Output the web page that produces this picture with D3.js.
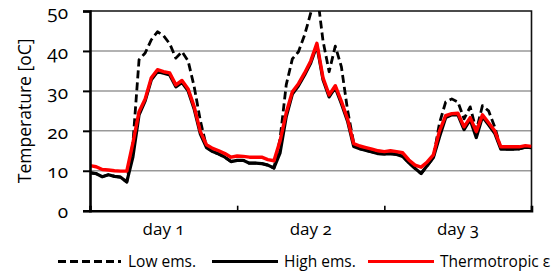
<!DOCTYPE html>
<html>
<head>
<meta charset="utf-8">
<script src="https://cdn.jsdelivr.net/npm/d3@7"></script>
<style>
  body { margin: 0; background: #fff; }
  svg text { font-family: "Open Sans", sans-serif; fill: #000; font-variant-numeric: oldstyle-nums; }
</style>
</head>
<body>
<svg id="chart" width="560" height="275"></svg>
<script>
// hourly temperatures over three days (hour 0..72)
var lowEms = [
  9.5, 9.3, 8.5, 9.0, 8.6, 8.4, 7.2, 17.0, 37.8, 39.5, 42.8, 44.8, 43.8, 41.8, 38.2, 39.8, 37.5, 31.0, 22.5, 16.0, 14.8, 14.2, 13.4, 12.3,
  12.6, 12.6, 11.9, 11.9, 11.8, 11.4, 10.7, 18.0, 31.5, 38.0, 39.8, 44.0, 49.5, 55.0, 42.5, 34.8, 41.2, 36.0, 25.2, 17.0, 15.5, 15.1, 14.7, 14.3,
  14.2, 14.3, 14.1, 13.6, 12.0, 10.6, 9.3, 11.3, 13.3, 22.0, 27.2, 28.0, 27.2, 23.0, 26.0, 20.0, 26.3, 25.0, 21.0, 15.6, 15.4, 15.4, 15.5, 15.9, 15.8
];
var highEms = [
  9.5, 9.3, 8.5, 9.0, 8.6, 8.4, 7.2, 13.5, 24.0, 27.5, 32.8, 34.8, 34.4, 34.0, 31.0, 32.1, 30.0, 25.4, 19.2, 15.8, 14.8, 14.2, 13.4, 12.3,
  12.6, 12.6, 11.9, 11.9, 11.8, 11.4, 10.7, 14.5, 23.5, 29.2, 31.3, 34.0, 37.0, 41.4, 32.8, 28.5, 30.8, 26.8, 22.4, 16.1, 15.5, 15.1, 14.7, 14.3,
  14.2, 14.3, 14.1, 13.6, 12.0, 10.6, 9.3, 11.3, 13.3, 18.5, 23.3, 24.0, 24.0, 20.3, 22.8, 18.3, 23.5, 21.5, 19.4, 15.4, 15.4, 15.4, 15.5, 15.9, 15.8
];
var thermo = [
  11.3, 11.0, 10.3, 10.2, 10.0, 9.9, 9.9, 17.0, 24.8, 28.0, 33.3, 35.3, 34.8, 34.5, 31.5, 32.6, 30.5, 26.0, 19.8, 16.5, 15.6, 15.0, 14.3, 13.4,
  13.7, 13.6, 13.4, 13.4, 13.4, 12.8, 12.5, 17.5, 24.5, 29.8, 31.8, 34.5, 37.5, 41.9, 33.3, 29.0, 31.3, 27.4, 23.0, 16.8, 16.2, 15.8, 15.4, 15.0,
  14.8, 15.0, 14.8, 14.5, 12.7, 11.4, 10.9, 12.2, 14.0, 20.0, 23.8, 24.3, 24.4, 21.0, 23.3, 19.8, 24.0, 22.0, 20.0, 16.0, 16.0, 16.0, 16.0, 16.3, 16.1
];
var days = ["day 1", "day 2", "day 3"];
var yTicks = [0, 10, 20, 30, 40, 50];
var seriesNames = ["Low ems.", "High ems.", "Thermotropic \u03b5"];

var svg = d3.select("#chart"),
  margin = { top: 11, right: 28.5, bottom: 64.3, left: 90 },
  width = +svg.attr("width"),
  height = +svg.attr("height");

var x = d3.scaleLinear().domain([0, 72]).range([margin.left, width - margin.right]);
var y = d3.scaleLinear().domain([0, 50]).range([height - margin.bottom, margin.top]);
var band = d3.scaleBand().domain(days).range([margin.left, width - margin.right]);

// gridlines
svg.append("g")
  .selectAll("line")
  .data(yTicks.slice(1, -1))
  .join("line")
  .attr("x1", margin.left).attr("x2", width - margin.right)
  .attr("y1", (d) => y(d)).attr("y2", (d) => y(d))
  .style("stroke", "#999")
  .style("stroke-width", "1.5px");

// plot border top + right
svg.append("path")
  .attr("d", "M" + margin.left + "," + y(50) + "H" + x(72) + "V" + y(0))
  .style("fill", "none")
  .style("stroke", "#111")
  .style("stroke-width", "1.6px");

svg.append("clipPath").attr("id", "plot-clip")
  .append("rect")
  .attr("x", margin.left).attr("y", y(50))
  .attr("width", x(72) - margin.left).attr("height", y(0) - y(50));

var line = d3.line()
  .x((d, i) => x(i))
  .y((d) => y(d));

var series = [
  { data: lowEms, color: "#000", w: 2.8, dash: "8,4" },
  { data: highEms, color: "#000", w: 3.2, dash: null },
  { data: thermo, color: "#ff0000", w: 3.4, dash: null }
];

var lines = svg.append("g").attr("clip-path", "url(#plot-clip)");
series.forEach((s) => {
  lines.append("path")
    .datum(s.data)
    .attr("d", line)
    .style("fill", "none")
    .style("stroke", s.color)
    .style("stroke-width", s.w + "px")
    .style("stroke-linejoin", "round")
    .style("stroke-dasharray", s.dash);
});

// y axis
var yAxis = svg.append("g")
  .attr("transform", "translate(" + margin.left + ",0)")
  .call(d3.axisLeft(y).tickValues(yTicks).tickSize(7).tickPadding(15));
yAxis.select(".domain").style("stroke", "#000").style("stroke-width", "2.6px");
yAxis.selectAll(".tick line").style("stroke", "#000").style("stroke-width", "2px");
yAxis.selectAll(".tick text")
  .attr("dy", "0.38em")
  .style("font-size", "19px")
  .style("font-family", "'Open Sans', sans-serif");

// x axis: ticks at day boundaries, labels centred in each day
var xAxis = svg.append("g")
  .attr("transform", "translate(0," + y(0) + ")")
  .call(d3.axisBottom(x).tickValues([24, 48]).tickSize(-5).tickFormat(""));
xAxis.select(".domain").style("stroke", "#000").style("stroke-width", "2.6px");
xAxis.selectAll(".tick line").style("stroke", "#000").style("stroke-width", "1.6px");

svg.append("g")
  .selectAll("text")
  .data(days)
  .join("text")
  .attr("x", (d) => band(d) + band.bandwidth() / 2)
  .attr("y", y(0) + 24)
  .attr("text-anchor", "middle")
  .style("font-size", "17px")
  .text((d) => d);

// y label
svg.append("text")
  .attr("transform", "translate(31," + (y(25)) + ") rotate(-90)")
  .attr("text-anchor", "middle")
  .style("font-size", "17.5px")
  .text("Temperature [oC]");

// legend
var legendY = 261.5;
var legendItems = [
  { name: seriesNames[0], x1: 58, x2: 121, tx: 128, s: series[0] },
  { name: seriesNames[1], x1: 212, x2: 278, tx: 284, s: series[1] },
  { name: seriesNames[2], x1: 368, x2: 434, tx: 440, s: series[2] }
];
var legend = svg.append("g");
legendItems.forEach((d) => {
  legend.append("line")
    .attr("x1", d.x1).attr("x2", d.x2)
    .attr("y1", legendY).attr("y2", legendY)
    .style("stroke", d.s.color)
    .style("stroke-width", "3.2px")
    .style("stroke-dasharray", d.s.dash);
  legend.append("text")
    .attr("x", d.tx)
    .attr("y", legendY + 5.5)
    .style("font-size", "15.5px")
    .text(d.name);
});
</script>
</body>
</html>
